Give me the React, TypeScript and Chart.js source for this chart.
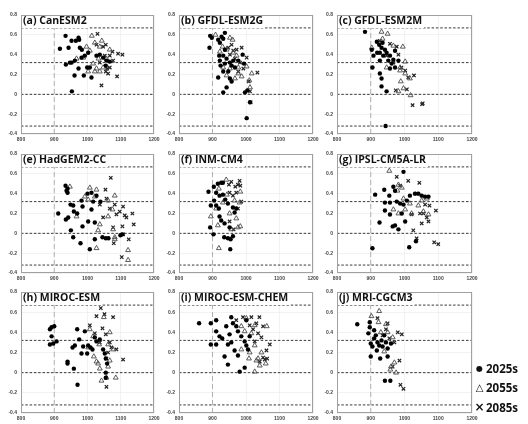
import React, { useEffect, useRef } from "react";
import { Chart, registerables } from "chart.js";
Chart.register(...registerables);

type P = [number, number];

// ---- axis / reference values ----
const xMin = 800, xMax = 1200, xStep = 100;
const yMin = -0.4, yMax = 0.8, yStep = 0.2;
const thresholds = [0.67, 0.32, 0, -0.32];
const refX = 900;
const seriesLabels = ["2025s", "2055s", "2085s"];

// ---- data (x, y) ----
const a2025: P[] = [[934,0.59],[952,0.54],[965,0.54],[973,0.57],[975,0.55],[917,0.46],[943,0.47],[977,0.47],[983,0.45],[935,0.30],[947,0.32],[952,0.32],[962,0.34],[973,0.26],[989,0.19],[961,0.19],[1012,0.17],[953,0.03],[999,0.27],[1007,0.27],[1027,0.39],[1037,0.40],[1047,0.37],[1057,0.34],[1067,0.33],[1055,0.29],[1002,0.42],[992,0.39],[982,0.37]];
const a2055: P[] = [[1013,0.59],[1043,0.54],[997,0.48],[1007,0.44],[1022,0.52],[987,0.37],[967,0.36],[1017,0.31],[1027,0.26],[1037,0.23],[1022,0.23],[1047,0.27],[1057,0.36],[1033,0.36],[1037,0.48],[1002,0.23],[1067,0.45]];
const a2085: P[] = [[1030,0.61],[1055,0.50],[1075,0.43],[1092,0.41],[1105,0.40],[1089,0.18],[1042,0.09],[1059,0.26],[1067,0.27],[1055,0.23],[1062,0.21],[1047,0.48],[1027,0.50],[1077,0.34],[1052,0.39],[1037,0.32],[1067,0.39]];

const b2025: P[] = [[893,0.59],[898,0.57],[891,0.47],[917,0.55],[927,0.58],[932,0.56],[937,0.62],[922,0.52],[920,0.39],[922,0.34],[924,0.29],[932,0.39],[937,0.31],[952,0.32],[957,0.29],[962,0.34],[967,0.27],[947,0.23],[932,0.23],[917,0.17],[952,0.16],[977,0.34],[990,0.40],[994,0.31],[957,0.13],[942,0.07],[932,0.02],[997,0.02],[1004,0.04],[1012,-0.08],[1002,-0.24],[942,0.36],[937,0.45]];
const b2055: P[] = [[909,0.60],[952,0.57],[960,0.55],[930,0.48],[942,0.45],[962,0.42],[972,0.39],[1002,0.28],[1017,0.21],[977,0.21],[987,0.18],[1010,0.14],[1012,0.07],[932,0.27],[952,0.26],[967,0.16],[942,0.19],[922,0.43],[977,0.27]];
const b2085: P[] = [[987,0.47],[1002,0.37],[1034,0.22],[1008,0.13],[1012,0.03],[1014,-0.08],[962,0.44],[972,0.45],[952,0.40],[982,0.32],[967,0.36],[977,0.23],[992,0.26],[957,0.50],[947,0.47]];

const c2025: P[] = [[883,0.63],[918,0.53],[925,0.50],[932,0.47],[903,0.45],[908,0.39],[927,0.42],[937,0.39],[947,0.42],[957,0.39],[967,0.35],[962,0.31],[957,0.26],[972,0.27],[927,0.21],[932,0.16],[932,0.08],[947,0.03],[944,-0.32],[905,0.27],[952,0.34],[942,0.45],[972,0.44],[982,0.34],[927,0.34],[935,0.52],[919,0.42]];
const c2055: P[] = [[932,0.63],[950,0.61],[935,0.56],[903,0.47],[995,0.48],[1002,0.33],[987,0.27],[1002,0.21],[1016,0.16],[989,0.13],[1018,-0.01],[997,0.06],[982,0.03],[947,0.27],[967,0.49],[987,0.24]];
const c2085: P[] = [[927,0.54],[957,0.51],[977,0.48],[967,0.32],[991,0.27],[1028,0.19],[1007,0.05],[974,0.04],[1024,-0.11],[1054,-0.09],[1052,-0.10],[947,0.39],[982,0.40],[1002,0.24],[1011,0.17]];

const e2025: P[] = [[934,0.48],[940,0.45],[940,0.41],[937,0.43],[912,0.20],[935,0.14],[942,0.16],[949,0.29],[957,0.28],[959,0.22],[969,0.20],[985,0.27],[985,0.07],[950,0.03],[957,-0.04],[979,-0.10],[1007,-0.16],[1002,0.12],[1022,0.11],[1022,-0.06],[1045,-0.04],[1055,-0.05],[1063,-0.05],[982,0.33],[1000,0.40],[1012,0.41],[1027,0.38],[1017,0.32],[1012,0.24],[1039,0.32],[1105,-0.01],[1099,-0.02]];
const e2055: P[] = [[947,0.47],[1007,0.46],[1027,0.44],[1082,0.38],[1062,0.33],[992,0.37],[1002,0.34],[967,0.17],[1032,0.03],[1027,-0.15],[1077,0.04],[1082,-0.04],[1082,-0.06],[1122,-0.17],[1122,-0.27],[1062,0.17],[1037,0.09],[1075,0.24],[1022,0.37]];
const e2085: P[] = [[1070,0.56],[1054,0.44],[1082,0.29],[1107,0.27],[1135,0.20],[1139,0.09],[1117,0.16],[1112,0.18],[1087,0.19],[1047,0.16],[1077,0.06],[1079,-0.10],[1124,-0.06],[1103,-0.24],[1105,0.07],[1067,0.25],[1097,0.22],[1037,0.29],[1057,0.35],[1107,-0.01]];

const f2025: P[] = [[888,0.42],[904,0.47],[916,0.50],[926,0.51],[931,0.51],[905,0.33],[895,0.28],[911,0.28],[919,0.25],[893,0.06],[903,-0.01],[935,-0.04],[946,-0.05],[954,-0.06],[961,-0.03],[953,-0.16],[921,0.17],[926,0.13],[936,0.10],[951,0.06],[921,0.38],[938,0.34],[946,0.30],[961,0.26],[966,0.21],[971,0.25],[911,0.41],[931,0.39]];
const f2055: P[] = [[919,0.45],[943,0.39],[983,0.42],[895,0.17],[911,0.25],[916,0.08],[919,-0.15],[976,0.06],[983,0.07],[956,0.04],[971,0.15],[951,0.20],[966,0.33],[981,0.31],[941,0.54],[931,0.31]];
const f2085: P[] = [[956,0.52],[976,0.49],[981,0.53],[983,0.48],[968,0.47],[961,0.38],[986,0.32],[976,0.25],[951,0.12],[963,0.04],[949,0.49],[971,0.41],[951,0.41]];

const g2025: P[] = [[913,0.39],[940,0.44],[955,0.38],[967,0.47],[972,0.43],[997,0.62],[926,0.11],[905,-0.15],[942,0.31],[957,0.31],[942,0.23],[957,0.19],[965,0.07],[972,0.08],[982,0.04],[977,0.32],[987,0.30],[997,0.29],[992,0.20],[1002,0.12],[1014,-0.14],[1034,-0.08],[1016,0.38],[1031,0.40],[1041,0.40],[1051,0.38],[1061,0.37],[1071,0.37],[1007,0.33]];
const g2055: P[] = [[955,0.63],[982,0.49],[992,0.46],[997,0.35],[1016,0.30],[1021,0.20],[1002,0.24],[982,0.20],[1041,0.28],[1056,0.22],[1066,0.35],[1051,0.33],[1071,0.19],[979,0.43],[967,0.24]];
const g2085: P[] = [[977,0.57],[1011,0.53],[1044,0.51],[1061,0.29],[1074,0.28],[1093,0.23],[1071,0.12],[1051,0.10],[1026,0.03],[1036,-0.05],[1088,-0.09],[1100,-0.11],[1021,0.19],[1046,0.20],[1056,0.20],[1066,0.16],[1036,0.40],[987,0.48]];

const h2025: P[] = [[887,0.43],[892,0.45],[900,0.46],[887,0.28],[897,0.29],[907,0.31],[892,0.36],[940,0.11],[940,0.09],[959,0.04],[970,-0.12],[955,0.25],[962,0.27],[969,0.43],[975,0.33],[982,0.19],[992,0.41],[999,0.19],[1002,0.27],[1009,0.25],[1015,0.23],[1022,0.35],[1027,0.31],[1037,0.33],[1047,0.23],[1052,0.19],[1055,0.14],[1055,0.00],[1055,-0.05],[1059,0.09],[987,0.26]];
const h2055: P[] = [[1007,0.43],[1002,0.25],[1019,0.16],[1027,0.11],[1032,0.09],[1037,0.04],[1062,0.06],[1067,0.12],[1085,-0.05],[1042,-0.08],[1057,-0.05],[1067,0.40],[1049,0.55],[1062,0.28],[1035,0.28],[1017,0.36],[1077,0.23]];
const h2085: P[] = [[1040,0.64],[1027,0.56],[1051,0.58],[1077,0.55],[1007,0.47],[1045,0.44],[1055,0.38],[1067,0.30],[1087,0.23],[1107,0.13],[1057,-0.14],[1072,0.25],[1062,0.20],[1037,0.30],[1022,0.39],[1057,0.14]];

const i2025: P[] = [[860,0.49],[895,0.49],[911,0.52],[911,0.41],[895,0.28],[911,0.28],[921,0.36],[929,0.34],[936,0.16],[946,0.28],[956,0.30],[946,0.08],[956,0.55],[961,0.49],[971,0.46],[976,0.41],[951,0.38],[966,0.22],[976,0.17],[981,0.01],[996,0.05],[1001,0.27],[1006,0.23],[996,0.31],[986,0.36],[1011,0.36],[1001,0.52],[941,0.46]];
const i2055: P[] = [[986,0.46],[1001,0.54],[1026,0.47],[1016,0.39],[986,0.23],[1011,0.20],[1026,0.27],[1036,0.14],[1031,0.12],[1041,0.07],[1026,0.01],[1059,0.09],[1062,0.46],[1046,0.20],[1009,0.14],[996,0.41]];
const i2085: P[] = [[971,0.52],[991,0.55],[1016,0.55],[1040,0.55],[1031,0.49],[1036,0.39],[1046,0.35],[1071,0.28],[1061,0.22],[1051,0.15],[1056,0.13],[1063,0.14],[1041,0.11],[1026,0.31],[1011,0.47],[1021,0.43],[1051,0.46]];

const j2025: P[] = [[860,0.48],[897,0.50],[897,0.45],[893,0.39],[900,0.29],[900,0.16],[905,0.26],[910,0.34],[915,0.37],[920,0.30],[925,0.27],[918,0.22],[928,0.14],[932,0.32],[940,0.37],[945,0.30],[950,0.24],[950,0.16],[960,0.29],[942,-0.08],[958,-0.08],[910,0.42],[935,0.26]];
const j2055: P[] = [[925,0.61],[902,0.56],[923,0.50],[945,0.48],[950,0.40],[965,0.35],[960,0.06],[970,0.10],[958,0.03],[975,0.00],[940,0.21],[930,0.40]];
const j2085: P[] = [[920,0.54],[950,0.49],[980,0.40],[992,0.38],[985,0.12],[965,0.06],[988,-0.12],[997,-0.16],[970,0.30],[955,0.34],[935,0.37],[945,0.43]];

const panelTitles = ["(a) CanESM2", "(b) GFDL-ESM2G", "(c) GFDL-ESM2M", "(e) HadGEM2-CC", "(f) INM-CM4", "(g) IPSL-CM5A-LR", "(h) MIROC-ESM", "(i) MIROC-ESM-CHEM", "(j) MRI-CGCM3"];
const panelData: P[][][] = [
  [a2025, a2055, a2085], [b2025, b2055, b2085], [c2025, c2055, c2085],
  [e2025, e2055, e2085], [f2025, f2055, f2085], [g2025, g2055, g2085],
  [h2025, h2055, h2085], [i2025, i2055, i2085], [j2025, j2055, j2085],
];

// ---- layout (plot-area rectangles, page px) ----
const colX: [number, number][] = [[21, 154], [179, 313], [337, 472]];
const rowY: [number, number][] = [[11, 134], [150, 273], [288, 413]];
const AXW = 22, AXH = 12, PADT = 3, PADR = 10;
const tickFont = { family: "'Liberation Sans', Arial, sans-serif", size: 5, weight: "bold" as const };

const fmtY = (v: number) => {
  const r = Math.round(v * 10) / 10;
  return r === 0 ? "0" : String(r);
};
const fmtX = (v: number) => String(Math.round(v));

const decor = {
  id: "panelDecor",
  afterDatasetsDraw(chart: any, _args: any, opts: any) {
    const { ctx, chartArea } = chart;
    const { left, top, right, bottom } = chartArea;
    ctx.save();
    ctx.strokeStyle = "#a0a0a0";
    ctx.lineWidth = 1;
    ctx.strokeRect(Math.round(left) + 0.5, Math.round(top) + 0.5, Math.round(right - left) - 1, Math.round(bottom - top) - 1);
    ctx.font = "bold 10.5px 'Open Sans', sans-serif";
    const w = ctx.measureText(opts.title).width;
    ctx.fillStyle = "#fff";
    ctx.fillRect(left + 1, top + 1, w + 3, 12);
    ctx.fillStyle = "#111";
    ctx.textBaseline = "top";
    ctx.fillText(opts.title, left + 2, top + 0.5);
    ctx.restore();
  },
};

function Panel({ idx }: { idx: number }) {
  const ref = useRef<HTMLCanvasElement>(null);
  const [L, R] = colX[idx % 3];
  const [T, B] = rowY[Math.floor(idx / 3)];
  const W = R - L + AXW + PADR;
  const H = B - T + PADT + AXH;
  useEffect(() => {
    const [d25, d55, d85] = panelData[idx];
    const toXY = (arr: P[]) => arr.map(([x, y]) => ({ x, y }));
    const lineSets = thresholds.map((v) => ({
      data: [{ x: xMin, y: v }, { x: xMax, y: v }],
      showLine: true, borderColor: "#222", borderWidth: 0.9, borderDash: [2.5, 1.8],
      pointRadius: 0, pointHoverRadius: 0,
    }));
    const chart = new Chart(ref.current as HTMLCanvasElement, {
      type: "scatter",
      data: {
        datasets: [
          { label: seriesLabels[0], data: toXY(d25), pointStyle: "circle", pointRadius: 2.2, backgroundColor: "#000", borderColor: "#000", borderWidth: 0 },
          { label: seriesLabels[1], data: toXY(d55), pointStyle: "triangle", pointRadius: 2.8, backgroundColor: "rgba(255,255,255,0)", borderColor: "#4a4a4a", borderWidth: 0.9 },
          { label: seriesLabels[2], data: toXY(d85), pointStyle: "crossRot", pointRadius: 2.4, borderColor: "#222", borderWidth: 1.2 },
          ...lineSets,
          { data: [{ x: refX, y: yMin }, { x: refX, y: yMax }], showLine: true, borderColor: "#b0b0b0", borderWidth: 1, borderDash: [5, 3], pointRadius: 0, pointHoverRadius: 0 },
        ] as any,
      },
      options: {
        animation: false,
        responsive: false,
        devicePixelRatio: 1,
        events: [],
        layout: { padding: { top: PADT, right: PADR, left: 0, bottom: 0 } },
        plugins: { legend: { display: false }, tooltip: { enabled: false }, panelDecor: { title: panelTitles[idx] } } as any,
        scales: {
          x: {
            type: "linear", min: xMin, max: xMax,
            ticks: { stepSize: xStep, font: tickFont, color: "#444", padding: 3, maxRotation: 0, autoSkip: false, callback: (v: any) => fmtX(Number(v)) },
            grid: { color: "#ececec", lineWidth: 0.7, drawTicks: false },
            border: { display: false },
            afterFit: (s: any) => { s.height = AXH; },
          },
          y: {
            type: "linear", min: yMin, max: yMax,
            ticks: { stepSize: yStep, font: tickFont, color: "#444", padding: 4, autoSkip: false, callback: (v: any) => fmtY(Number(v)) },
            grid: { color: "#ececec", lineWidth: 0.7, drawTicks: false },
            border: { display: false },
            afterFit: (s: any) => { s.width = AXW; },
          },
        },
      },
      plugins: [decor],
    });
    return () => chart.destroy();
  }, [idx]);
  return (
    <canvas
      ref={ref}
      width={W}
      height={H}
      style={{ position: "absolute", left: L - AXW, top: T - PADT, width: W, height: H }}
    />
  );
}

const legendItems = [
  { sym: "●", label: seriesLabels[0], y: 368, size: 8 },
  { sym: "△", label: seriesLabels[1], y: 387, size: 10 },
  { sym: "×", label: seriesLabels[2], y: 407, size: 12 },
];

export default function App() {
  return (
    <div style={{ position: "absolute", left: 0, top: 0, width: 528, height: 424, background: "#fff", overflow: "hidden" }}>
      {panelTitles.map((_, i) => <Panel key={i} idx={i} />)}
      {legendItems.map((it) => (
        <div key={it.label} style={{ position: "absolute", left: 474, top: it.y - 9, height: 18, display: "flex", alignItems: "center", fontFamily: "'Open Sans', sans-serif", fontWeight: 700, color: "#111" }}>
          <span style={{ width: 11, textAlign: "center", fontSize: it.size, fontFamily: "'DejaVu Sans', sans-serif", fontWeight: 700 }}>{it.sym}</span>
          <span style={{ fontSize: 11.5, marginLeft: 1 }}>{it.label}</span>
        </div>
      ))}
    </div>
  );
}
